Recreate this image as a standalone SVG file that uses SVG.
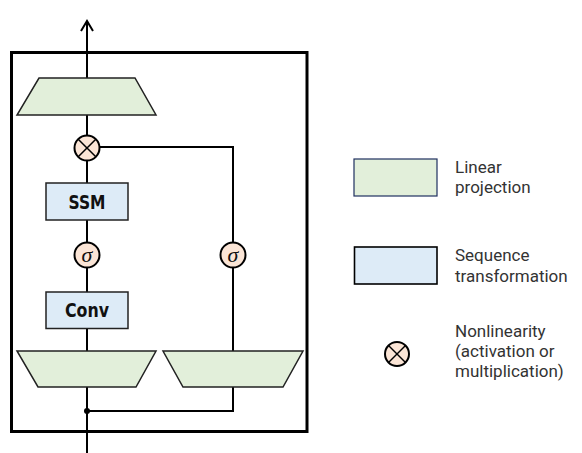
<svg xmlns="http://www.w3.org/2000/svg" width="582" height="453" viewBox="0 0 582 453">
<style>
.ln{fill:none;stroke:#000;stroke-width:2}
.trap{fill:#E2EFDA;stroke:#222;stroke-width:1.5}
.box{fill:#DDEBF7;stroke:#222;stroke-width:1.5}
.op{fill:#FBE5D6;stroke:#000;stroke-width:2}
.lbl{font-family:"DejaVu Sans Condensed","DejaVu Sans",sans-serif;font-weight:bold;font-size:20px;fill:#111;text-anchor:middle}
.sig{font-family:"Liberation Serif","DejaVu Serif",serif;font-style:italic;font-size:22px;fill:#111;text-anchor:middle}
.leg{font-family:Roboto,"Open Sans",sans-serif;font-size:17px;fill:#333}
</style>
<rect x="11.5" y="52.5" width="295.5" height="379" fill="none" stroke="#000" stroke-width="3"/>
<g id="connectors">
<line class="ln" x1="87" y1="453" x2="87" y2="21"/>
<polyline class="ln" points="81,31 87,21 93,31"/>
<polyline class="ln" points="100,147 233,147 233,351"/>
<polyline class="ln" points="87,411 233,411 233,387"/>
<circle cx="87" cy="411" r="3" fill="#000"/>
</g>
<g id="out_proj"><polygon class="trap" points="39,78 135,78 156,115 17,115"/></g>
<g id="mult">
<circle class="op" cx="87" cy="148" r="12.5"/>
<line x1="78.2" y1="139.2" x2="95.8" y2="156.8" stroke="#000" stroke-width="1.5"/>
<line x1="95.8" y1="139.2" x2="78.2" y2="156.8" stroke="#000" stroke-width="1.5"/>
</g>
<g id="ssm"><rect class="box" x="46" y="183" width="82" height="37"/><text class="lbl" x="87" y="209" textLength="37" lengthAdjust="spacingAndGlyphs">SSM</text></g>
<g id="sigma1"><circle class="op" cx="87" cy="255" r="12.5"/><text class="sig" x="87" y="261.5">σ</text></g>
<g id="sigma2"><circle class="op" cx="233" cy="255" r="12.5"/><text class="sig" x="233" y="261.5">σ</text></g>
<g id="conv"><rect class="box" x="46" y="292" width="82" height="36.5"/><text class="lbl" x="87" y="316.5" textLength="44" lengthAdjust="spacingAndGlyphs">Conv</text></g>
<g id="in_proj_left"><polygon class="trap" points="17,351 156,351 136,387 38,387"/></g>
<g id="in_proj_right"><polygon class="trap" points="163,351 303,351 283,387 183,387"/></g>
<g id="legend">
<rect x="354" y="159" width="83" height="37" fill="#E2EFDA" stroke="#1F2F5F" stroke-width="1.2"/>
<text class="leg" x="455" y="172.5">Linear</text>
<text class="leg" x="455" y="193">projection</text>
<rect x="354.5" y="247" width="82.5" height="37" fill="#DDEBF7" stroke="#000" stroke-width="1.6"/>
<text class="leg" x="455" y="261.3">Sequence</text>
<text class="leg" x="455" y="281.5">transformation</text>
<circle class="op" cx="397" cy="354" r="12"/>
<line x1="388.5" y1="345.5" x2="405.5" y2="362.5" stroke="#000" stroke-width="1.5"/>
<line x1="405.5" y1="345.5" x2="388.5" y2="362.5" stroke="#000" stroke-width="1.5"/>
<text class="leg" x="455" y="337">Nonlinearity</text>
<text class="leg" x="455" y="357">(activation or</text>
<text class="leg" x="455" y="377">multiplication)</text>
</g>
</svg>
